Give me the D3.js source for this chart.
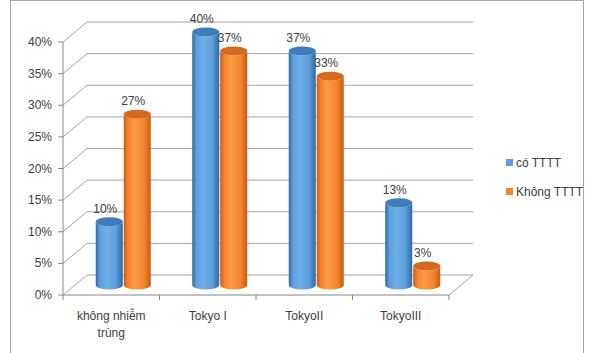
<!DOCTYPE html>
<html><head><meta charset="utf-8">
<script src="https://cdn.jsdelivr.net/npm/d3@7"></script>
<style>body{margin:0;background:#fff}svg{display:block;font-family:"Liberation Sans",Arial,sans-serif}</style>
</head><body><svg id="c" width="593" height="353"></svg>
<script>
const categories = ["không nhiễm trùng", "Tokyo I", "TokyoII", "TokyoIII"];
const categoryLines = [["không nhiễm", "trùng"], ["Tokyo I"], ["TokyoII"], ["TokyoIII"]];
const seriesNames = ["có TTTT", "Không TTTT"];
const coTTTT = [0.10, 0.40, 0.37, 0.13];
const khongTTTT = [0.27, 0.37, 0.33, 0.03];
const yTicks = [0, 0.05, 0.10, 0.15, 0.20, 0.25, 0.30, 0.35, 0.40];
const seriesValues = [coTTTT, khongTTTT];

const svg = d3.select("#c");
const defs = svg.append("defs");
const palette = [
  {edge:"#2f67a3", mid:"#5d9fdc", light:"#6fb0ea", top:"#3f7cbb"},
  {edge:"#c75a16", mid:"#f5852c", light:"#fb9a48", top:"#d4691f"}
];
palette.forEach((p,i)=>{
  const g = defs.append("linearGradient").attr("id","g"+i).attr("x1","0").attr("x2","1").attr("y1","0").attr("y2","0");
  [[0,p.edge],[0.15,p.mid],[0.4,p.light],[0.75,p.mid],[1,p.edge]].forEach(s=>g.append("stop").attr("offset",s[0]).attr("stop-color",s[1]));
});

// outer border
svg.append("rect").attr("x",10.5).attr("y",0.5).attr("width",573).attr("height",370).attr("fill","none").attr("stroke","#a6a6a6");

const x0 = 63, x1 = 449;
const y = d3.scaleLinear().domain([0,0.40]).range([295,42]);
const dx = 24, dy = -20;
const x = d3.scaleBand().domain(categories).range([x0,x1]);
const bw = x.bandwidth();
const xs = d3.scaleBand().domain(seriesNames).range([bw/2-28, bw/2+28]);
const fs = 12;

const grid = svg.append("g").attr("stroke","#a6a6a6").attr("fill","none");
yTicks.forEach(t=>{
  const yy = y(t);
  grid.append("line").attr("x1",x0).attr("y1",yy).attr("x2",x0+dx).attr("y2",yy+dy);
  grid.append("line").attr("x1",x0+dx).attr("y1",yy+dy).attr("x2",x1+dx).attr("y2",yy+dy);
});
// floor right edge
grid.append("line").attr("x1",x1).attr("y1",y(0)).attr("x2",x1+dx).attr("y2",y(0)+dy);

// axes
const ax = svg.append("g").attr("stroke","#868686");
ax.append("line").attr("x1",x0).attr("y1",y(0)).attr("x2",x0).attr("y2",y(0.40));
ax.append("line").attr("x1",x0).attr("y1",y(0)).attr("x2",x1).attr("y2",y(0));
yTicks.forEach(t=>ax.append("line").attr("x1",x0-5).attr("x2",x0).attr("y1",y(t)).attr("y2",y(t)));
categories.forEach(c=>ax.append("line").attr("x1",x(c)).attr("x2",x(c)).attr("y1",y(0)).attr("y2",y(0)+5));
ax.append("line").attr("x1",x1).attr("x2",x1).attr("y1",y(0)).attr("y2",y(0)+5);

// y labels
svg.append("g").selectAll("text").data(yTicks).join("text")
  .attr("x",52).attr("y",d=>y(d)+4).attr("text-anchor","end")
  .attr("font-size",fs).attr("fill","#404040").text(d=>d3.format(".0%")(d));

// category labels
categories.forEach((c,i)=>{
  categoryLines[i].forEach((ln,j)=>{
    svg.append("text").attr("x",x(c)+bw/2).attr("y",320+j*17).attr("text-anchor","middle")
      .attr("font-size",fs).attr("fill","#404040").text(ln);
  });
});

// bars (cylinders)
const rx = 13.5, ry = 4.5;
const bars = svg.append("g");
categories.forEach((c,i)=>{
  seriesNames.forEach((s,k)=>{
    const v = seriesValues[k][i];
    const cx = x(c) + xs(s) + xs.bandwidth()/2 + dx/2;
    const yb = y(0) + dy/2;
    const yt = y(v) + dy/2;
    const path = `M${cx-rx},${yt} L${cx-rx},${yb} A${rx},${ry} 0 0 0 ${cx+rx},${yb} L${cx+rx},${yt} A${rx},${ry} 0 0 1 ${cx-rx},${yt} Z`;
    bars.append("path").attr("d",path).attr("fill",`url(#g${k})`);
    bars.append("ellipse").attr("cx",cx).attr("cy",yt).attr("rx",rx).attr("ry",ry).attr("fill",palette[k].top);
    bars.append("text").attr("x",cx-4).attr("y",yt-9).attr("text-anchor","middle")
      .attr("font-size",fs).attr("fill","#404040").text(d3.format(".0%")(v));
  });
});

// legend
const leg = svg.append("g");
seriesNames.forEach((s,k)=>{
  const ly = 163 + k*29;
  leg.append("rect").attr("x",506).attr("y",ly-4).attr("width",7).attr("height",7).attr("fill",palette[k].mid);
  leg.append("text").attr("x",516).attr("y",ly+4).attr("font-size",fs).attr("fill","#404040").text(s);
});
</script></body></html>
